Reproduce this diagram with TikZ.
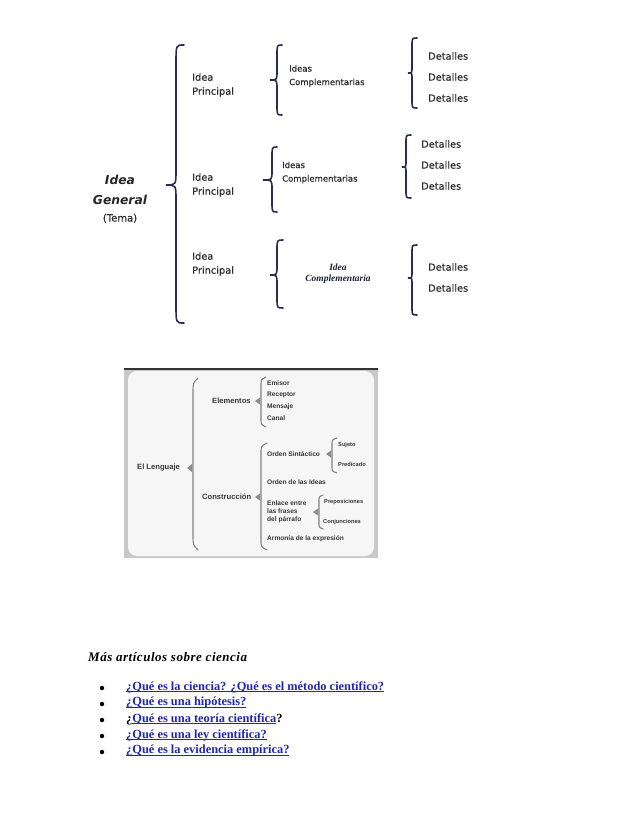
\documentclass[tikz,border=0pt]{standalone}
\usepackage{fontspec}
\setmainfont{Liberation Serif}
\setsansfont{Liberation Sans}
\newfontfamily\comicf[FakeBold=0.6]{DejaVu Sans}
\newfontfamily\comicg{DejaVu Sans}
\definecolor{navy}{RGB}{40,46,80}
\definecolor{txtgrey}{RGB}{45,45,45}
\definecolor{dgrey}{RGB}{55,55,55}
\definecolor{linkblue}{RGB}{35,40,170}
\definecolor{boxgrey}{RGB}{200,200,200}
\definecolor{boxin}{RGB}{246,246,246}
\definecolor{brgrey}{RGB}{130,130,130}
\definecolor{trigrey}{RGB}{140,140,140}
\newcommand{\ulink}[1]{\setbox0\hbox{#1}\rlap{\rule[-1.6pt]{\wd0}{0.9pt}}\box0}
% e s t T M B r1 r2
\newcommand{\TopBrace}[8]{%
  \draw[topbrace] (#1,#4) .. controls (#2,#4) .. (#2,#4+#7) -- (#2,#5-#8)
    .. controls (#2,#5) .. (#3,#5) .. controls (#2,#5) .. (#2,#5+#8)
    -- (#2,#6-#7) .. controls (#2,#6) .. (#1,#6);}
% e s T B r
\newcommand{\GreyBrace}[5]{%
  \draw[greybrace] (#1,#3) .. controls (#2,#3+#5*0.3) .. (#2,#3+#5) -- (#2,#4-#5)
    .. controls (#2,#4-#5*0.3) .. (#1,#4);}
\tikzset{
  topbrace/.style={draw=navy, line width=1.6pt, line cap=round},
  greybrace/.style={draw=brgrey, line width=1.1pt, line cap=round},
  ctext/.style={inner sep=0pt, anchor=west, text=txtgrey, font=\comicf\fontsize{9.8}{14}\selectfont, align=left},
  ctextsm/.style={ctext, font=\comicf\fontsize{8.5}{13.5}\selectfont},
  ltext/.style={inner sep=0pt, anchor=west, text=dgrey, font=\sffamily\bfseries\fontsize{7.6}{9}\selectfont},
  itext/.style={inner sep=0pt, anchor=west, text=dgrey, font=\sffamily\bfseries\fontsize{6.6}{8}\selectfont, align=left},
  stext/.style={inner sep=0pt, anchor=west, text=dgrey, font=\sffamily\bfseries\fontsize{5.7}{7}\selectfont},
  tri/.style={fill=trigrey},
  link/.style={inner sep=0pt, anchor=west, font=\bfseries\fontsize{12.4}{14}\selectfont},
  bul/.style={circle, fill=black, inner sep=0pt, minimum size=4.5pt}
}
\begin{document}
\begin{tikzpicture}[x=1pt,y=-1pt]
\useasboundingbox (0,0) rectangle (638,826);
\fill[white] (0,0) rectangle (638,826);

% ---------- Diagram 1 ----------
\node[inner sep=0pt, align=center, text=black!85, font=\comicg\bfseries\itshape\fontsize{12.3}{20}\selectfont] (gen) at (120,199)
  {Idea\\General\\[-3pt]{\comicf\mdseries\upshape\fontsize{10}{12}\selectfont\color{txtgrey}(Tema)}};

\TopBrace{184}{176}{166}{45}{185}{323}{18}{15}

\node[ctext] (p1) at (192,85) {Idea\\Principal};
\node[ctext] (p2) at (192,185) {Idea\\Principal};
\node[ctext] (p3) at (192,264) {Idea\\Principal};

\TopBrace{282}{277}{270}{45}{80}{115}{10}{9}
\TopBrace{277}{272}{263}{147}{180}{212}{10}{9}
\TopBrace{283}{277}{270}{240}{275}{308}{10}{9}

\node[ctextsm] (c1) at (289,76) {Ideas\\Complementarias};
\node[ctextsm] (c2) at (282,172.5) {Ideas\\Complementarias};
\node[inner sep=0pt, align=center, text=navy!70!black, font=\bfseries\itshape\fontsize{9.5}{11}\selectfont] (c3) at (338,273.5) {Idea\\Complementaria};

\TopBrace{417}{412}{408}{38}{73}{108}{8}{6}
\TopBrace{411}{406}{402}{135}{167}{198}{8}{6}
\TopBrace{417}{412}{408}{245}{278}{315}{8}{6}

\node[ctext] (d11) at (428,56) {Detalles};
\node[ctext] (d12) at (428,77) {Detalles};
\node[ctext] (d13) at (428,98) {Detalles};
\node[ctext] (d21) at (421,144) {Detalles};
\node[ctext] (d22) at (421,165) {Detalles};
\node[ctext] (d23) at (421,186) {Detalles};
\node[ctext] (d31) at (428,267) {Detalles};
\node[ctext] (d32) at (428,288) {Detalles};

% ---------- Diagram 2 ----------
\fill[boxgrey] (124,368) rectangle (378,558);
\fill[boxin, rounded corners=9pt] (128,371) rectangle (374,556);
\draw[black!80, line width=2pt] (124,369) -- (378,369);

\node[ltext] (lang) at (137,468) {El Lenguaje};
\fill[tri] (192,464) -- (187,468) -- (192,472) -- cycle;
\GreyBrace{198}{193}{378}{550}{16}

\node[ltext] (elem) at (212,401) {Elementos};
\fill[tri] (260,397.5) -- (255,401) -- (260,404.5) -- cycle;
\GreyBrace{266}{261}{377}{427}{8}
\node[itext] (e1) at (267,383) {Emisor};
\node[itext] (e2) at (267,395) {Receptor};
\node[itext] (e3) at (267,406.5) {Mensaje};
\node[itext] (e4) at (267,418) {Canal};

\node[ltext] (cons) at (202,497) {Construcción};
\fill[tri] (260,493.5) -- (255,497) -- (260,500.5) -- cycle;
\GreyBrace{267}{261}{443}{550}{10}

\node[itext] (os) at (267,454) {Orden Sintáctico};
\fill[tri] (331,450.5) -- (326,454) -- (331,457.5) -- cycle;
\GreyBrace{337}{332}{438}{473}{6}
\node[stext] (suj) at (338,445) {Sujeto};
\node[stext] (pre) at (338,464) {Predicado};

\node[itext] (oi) at (267,482) {Orden de las Ideas};

\node[itext, font=\sffamily\bfseries\fontsize{6.6}{7.8}\selectfont] (enl) at (267,511.5) {Enlace entre\\las frases\\del párrafo};
\fill[tri] (318,508.5) -- (313,512) -- (318,515.5) -- cycle;
\GreyBrace{323}{319}{495}{529}{6}
\node[stext] (prep) at (324,502) {Preposiciones};
\node[stext] (conj) at (323,522) {Conjunciones};

\node[itext] (arm) at (267,539) {Armonía de la expresión};

% ---------- Links ----------
\node[inner sep=0pt, anchor=west, font=\bfseries\itshape\fontsize{13}{15}\selectfont\addfontfeature{LetterSpace=4}] (mas) at (88,657) {Más artículos sobre ciencia};

\node[bul] (b1) at (102,688) {};
\node[bul] (b2) at (102,704) {};
\node[bul] (b3) at (102,720) {};
\node[bul] (b4) at (102,736) {};
\node[bul] (b5) at (102,752) {};

\node[link, text=linkblue] (l1) at (126,687) {\ulink{¿Qué es la ciencia? ¿Qué es el método científico?}};
\node[link, text=linkblue] (l2) at (126,703) {\ulink{¿Qué es una hipótesis?}};
\node[link] (l3) at (126,719) {¿{\color{linkblue}\ulink{Qué es una teoría científica}}?};
\node[link, text=linkblue] (l4) at (126,735) {\ulink{¿Qué es una ley científica?}};
\node[link, text=linkblue] (l5) at (126,751) {\ulink{¿Qué es la evidencia empírica?}};
\end{tikzpicture}
\end{document}
